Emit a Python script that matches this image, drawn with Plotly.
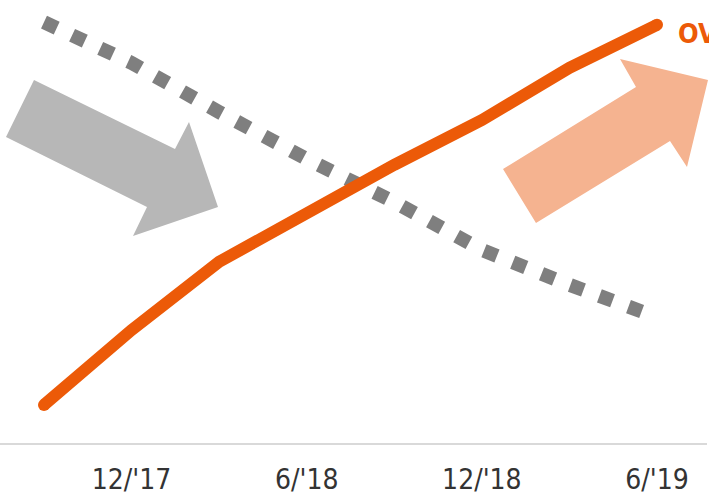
import plotly.graph_objects as go

# Quarter categories (only semiannual ones labelled)
quarters = ["9/'17", "12/'17", "3/'18", "6/'18", "9/'18", "12/'18", "3/'19", "6/'19"]
tick_labels = ["12/'17", "6/'18", "12/'18", "6/'19"]
tick_idx = [1, 3, 5, 7]

# Series values (index scale)
orange_vals = [8.6, 25.5, 40.9, 52.1, 62.8, 72.9, 84.7, 94.4]
gray_vals = [95.0, 85.8, 74.7, 64.1, 54.4, 43.6, 35.7, 28.4]

ORANGE = "#EC5A08"
GRAY_DOT = "#7F7F7F"
GRAY_ARROW = "#B7B7B7"
SALMON = "#F5B390"

W, H = 709, 496
ML, MR, MT, MB = 0, 2, 0, 53
PW, PH = W - ML - MR, H - MT - MB
x = list(range(len(quarters)))

fig = go.Figure()
fig.add_trace(go.Scatter(x=x, y=gray_vals, mode="lines",
                         line=dict(color=GRAY_DOT, width=14, dash="14px,17px"),
                         hoverinfo="skip", showlegend=False))
fig.add_trace(go.Scatter(x=x, y=orange_vals, mode="lines",
                         line=dict(color=ORANGE, width=12),
                         hoverinfo="skip", showlegend=False))
# round end caps
fig.add_trace(go.Scatter(x=[x[0], x[-1]], y=[orange_vals[0], orange_vals[-1]], mode="markers",
                         marker=dict(color=ORANGE, size=12, line=dict(width=0)),
                         hoverinfo="skip", showlegend=False))


def to_paper(px, py):
    return (px - ML) / PW, (MT + PH - py) / PH


def px_path(pts):
    s = ""
    for i, (px, py) in enumerate(pts):
        xp, yp = to_paper(px, py)
        s += ("M" if i == 0 else "L") + f"{xp:.5f},{yp:.5f} "
    return s + "Z"


gray_arrow = [(34, 80), (175, 149), (189, 122), (218, 207), (133, 236), (147, 207), (6, 137)]
salmon_arrow = [(620, 59), (708, 80), (687, 167), (670, 141), (536, 223), (503, 169), (636, 87)]

ov_x, ov_y = to_paper(676, 33)

fig.update_layout(
    width=W, height=H,
    margin=dict(l=ML, r=MR, t=MT, b=MB, autoexpand=False),
    paper_bgcolor="white", plot_bgcolor="white",
    xaxis=dict(range=[-0.5025, 7.571], tickvals=tick_idx, ticktext=tick_labels,
               automargin=False,
               showgrid=False, zeroline=False, showline=True, linecolor="#D9D9D9",
               linewidth=2, ticks="", ticklabelstandoff=10,
               tickfont=dict(family="DejaVu Sans Condensed, DejaVu Sans", size=28, color="#333333")),
    yaxis=dict(range=[0, 100], visible=False, showgrid=False, zeroline=False, automargin=False),
    shapes=[
        dict(type="path", xref="paper", yref="paper", path=px_path(gray_arrow),
             fillcolor=GRAY_ARROW, line=dict(width=0), layer="below"),
        dict(type="path", xref="paper", yref="paper", path=px_path(salmon_arrow),
             fillcolor=SALMON, line=dict(width=0), layer="below"),
    ],
    annotations=[
        dict(text="<b>OV</b>", xref="paper", yref="paper", x=ov_x, y=ov_y,
             xanchor="left", yanchor="middle", showarrow=False,
             font=dict(family="DejaVu Sans Condensed, DejaVu Sans", size=27, color=ORANGE)),
    ],
)

fig.write_html("out.html", config=dict(displayModeBar=False),
               post_script="document.body.style.margin='0';document.body.style.overflow='hidden';")
